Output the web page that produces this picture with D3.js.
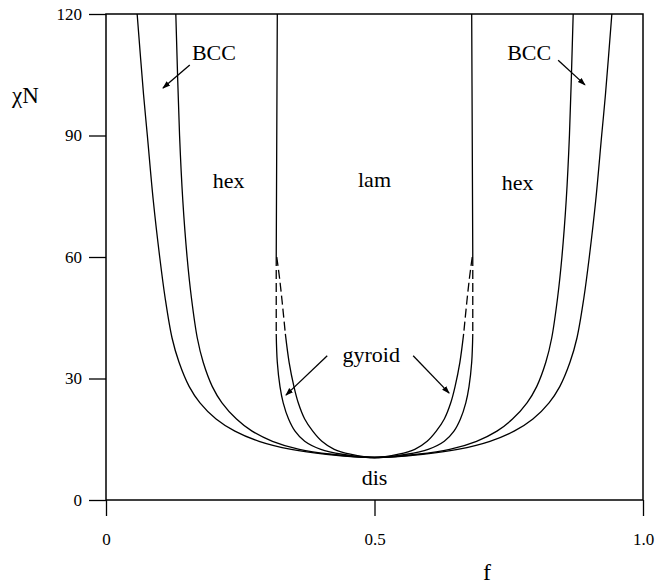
<!DOCTYPE html>
<html>
<head>
<meta charset="utf-8">
<script src="https://cdn.jsdelivr.net/npm/d3@7"></script>
<style>
  body { margin: 0; background: #fff; }
  text { font-family: "Liberation Serif", "DejaVu Serif", serif; fill: #000; }
</style>
</head>
<body>
<div id="chart"></div>
<script>
const critF = 0.5;
const critChi = 10.5;

// disordered / BCC (order-disorder transition)
const odtChi = [120, 100, 90, 74, 60, 50, 40, 34, 28, 24, 20, 17, 14.5, 12.5, 11.3];
const odtF   = [0.058, 0.070, 0.077, 0.088, 0.100, 0.110, 0.123, 0.136, 0.155, 0.175, 0.205, 0.240, 0.285, 0.345, 0.41];

// BCC / hex
const bccChi = [120, 90, 74, 60, 50, 40, 34, 28, 24, 20, 17, 14.5, 12.5, 11.3];
const bccF   = [0.130, 0.137, 0.143, 0.151, 0.159, 0.170, 0.181, 0.198, 0.216, 0.243, 0.272, 0.310, 0.360, 0.42];

// hex / lam (above chiN 60) and hex / gyroid (below)
const hexChi = [120, 90, 60, 41, 34, 28, 24, 20, 17, 14.5, 12.5, 11.3];
const hexF   = [0.319, 0.318, 0.317, 0.317, 0.319, 0.324, 0.330, 0.340, 0.352, 0.370, 0.400, 0.44];

// gyroid / lam
const gyrChi = [60, 55, 49, 41, 34, 28, 24, 20, 17, 14.5, 12.5, 11.3];
const gyrF   = [0.318, 0.323, 0.328, 0.334, 0.341, 0.350, 0.358, 0.370, 0.385, 0.402, 0.425, 0.455];

// extrapolated (dashed) part of the gyroid boundaries
const dashChi = [41, 60];

const xTicks = [0, 0.5, 1.0];
const xTickLabels = ["0", "0.5", "1.0"];
const yTicks = [0, 30, 60, 90, 120];

// region labels and arrows, in data units (f, chiN)
const labels = [
    { text: "BCC", f: 0.160, chi: 108.6, anchor: "start" },
    { text: "BCC", f: 0.747, chi: 108.6, anchor: "start" },
    { text: "hex", f: 0.199, chi: 77.0, anchor: "start" },
    { text: "hex", f: 0.737, chi: 76.5, anchor: "start" },
    { text: "lam", f: 0.500, chi: 77.3, anchor: "middle" },
    { text: "gyroid", f: 0.494, chi: 34.0, anchor: "middle" },
    { text: "dis", f: 0.500, chi: 3.8, anchor: "middle" },
];
const arrows = [
    { f1: 0.156, chi1: 107.4, f2: 0.106, chi2: 101.7 },
    { f1: 0.842, chi1: 108.6, f2: 0.892, chi2: 102.5 },
    { f1: 0.412, chi1: 35.6, f2: 0.335, chi2: 25.9 },
    { f1: 0.572, chi1: 35.6, f2: 0.639, chi2: 26.4 },
];

// set the dimensions and margins of the graph
const width = 658, height = 584;
const margin = { top: 14, right: 15, bottom: 84, left: 106 };
const plot_width = width - margin.left - margin.right;
const plot_height = height - margin.top - margin.bottom;

const svg = d3.select("#chart")
    .append("svg")
    .attr("width", width)
    .attr("height", height)
    .append("g")
    .attr("transform", "translate(" + margin.left + "," + margin.top + ")");

const x = d3.scaleLinear().domain([0, 1]).range([0, plot_width]);
const y = d3.scaleLinear().domain([0, 120]).range([plot_height, 0]);

svg.append("defs").append("marker")
    .attr("id", "head")
    .attr("viewBox", "0 0 10 10")
    .attr("refX", 9).attr("refY", 5)
    .attr("markerWidth", 8).attr("markerHeight", 8)
    .attr("markerUnits", "userSpaceOnUse")
    .attr("orient", "auto")
    .append("path")
    .attr("d", "M0,1.5 L10,5 L0,8.5 Z")
    .attr("fill", "#000");

// axes
const xAxis = svg.append("g")
    .attr("transform", "translate(0," + plot_height + ")")
    .call(d3.axisBottom(x).tickValues(xTicks)
        .tickFormat((d, i) => xTickLabels[i])
        .tickSize(16).tickPadding(17));
const yAxis = svg.append("g")
    .call(d3.axisLeft(y).tickValues(yTicks).tickSize(17).tickPadding(7));
[xAxis, yAxis].forEach(a => {
    a.select(".domain").remove();
    a.selectAll(".tick line").attr("stroke", "#000").attr("stroke-width", 1.3);
    a.selectAll(".tick text").attr("font-size", 17)
        .attr("font-family", "Liberation Serif");
});

// frame
svg.append("rect")
    .attr("x", 0).attr("y", 0)
    .attr("width", plot_width).attr("height", plot_height)
    .attr("fill", "none").attr("stroke", "#000").attr("stroke-width", 1.5);

// axis titles
svg.append("text")
    .attr("x", -94).attr("y", 89)
    .attr("font-size", 23)
    .text("\u03c7N");
svg.append("text")
    .attr("x", 381).attr("y", 566)
    .attr("text-anchor", "middle")
    .attr("font-size", 24)
    .text("f");

const line = d3.line()
    .x(d => x(d[0]))
    .y(d => y(d[1]))
    .curve(d3.curveCatmullRom.alpha(0.5));

function sides(chi, f) {
    const left = chi.map((c, i) => [f[i], c]);
    const right = chi.map((c, i) => [1 - f[i], c]);
    return { left, right };
}

function drawPath(pts, dashed) {
    svg.append("path")
        .datum(pts)
        .attr("d", line)
        .attr("fill", "none")
        .attr("stroke", "#000")
        .attr("stroke-width", 1.3)
        .attr("stroke-dasharray", dashed ? "9,4" : null);
}

// full U shaped boundary through the critical point
function drawU(chi, f, maxChi) {
    const s = sides(chi, f);
    const l = s.left.filter(p => p[1] <= maxChi);
    const r = s.right.filter(p => p[1] <= maxChi).reverse();
    drawPath(l.concat([[critF, critChi]], r), false);
}

drawU(odtChi, odtF, 200);
drawU(bccChi, bccF, 200);

// gyroid boundaries: solid below, dashed in the extrapolated range, solid hex/lam above
[[hexChi, hexF], [gyrChi, gyrF]].forEach(([chi, f]) => {
    const s = sides(chi, f);
    drawU(chi, f, dashChi[0]);
    [s.left, s.right].forEach(side => {
        drawPath(side.filter(p => p[1] >= dashChi[0] && p[1] <= dashChi[1]), true);
        const top = side.filter(p => p[1] >= dashChi[1]);
        if (top.length > 1) drawPath(top, false);
    });
});

// labels
svg.selectAll(".lbl")
    .data(labels)
    .enter()
    .append("text")
    .attr("x", d => x(d.f))
    .attr("y", d => y(d.chi))
    .attr("text-anchor", d => d.anchor)
    .attr("font-size", 22)
    .text(d => d.text);

svg.selectAll(".arr")
    .data(arrows)
    .enter()
    .append("line")
    .attr("x1", d => x(d.f1)).attr("y1", d => y(d.chi1))
    .attr("x2", d => x(d.f2)).attr("y2", d => y(d.chi2))
    .attr("stroke", "#000")
    .attr("stroke-width", 1.3)
    .attr("marker-end", "url(#head)");
</script>
</body>
</html>
